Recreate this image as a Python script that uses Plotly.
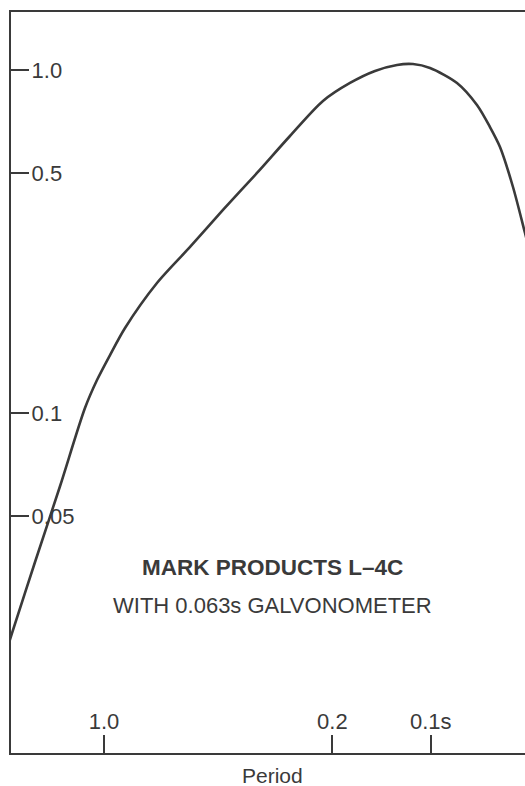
import plotly.graph_objects as go

# Response curve (period in seconds, relative magnification)
period = [1.966, 1.911, 1.625, 1.362, 1.143, 1.050, 0.958, 0.8619, 0.6882, 0.5451,
          0.4322, 0.3401, 0.2696, 0.2137, 0.1766, 0.1481, 0.1268, 0.1133, 0.1005,
          0.0831, 0.07219, 0.06586, 0.06138, 0.05601, 0.05146, 0.04797]
response = [0.02097, 0.02287, 0.03683, 0.06134, 0.1035, 0.1249, 0.1477, 0.1771, 0.2395,
            0.3051, 0.3910, 0.5012, 0.6424, 0.8124, 0.9169, 0.9938, 1.035, 1.041, 1.014,
            0.9169, 0.7909, 0.6822, 0.5968, 0.4562, 0.3351, 0.2579]

x_tickvals = [1.0, 0.2, 0.1]
x_ticktext = ["1.0", "0.2", "0.1s"]
y_tickvals = [1.0, 0.5, 0.1, 0.05]
y_ticktext = ["1.0", "0.5", "0.1", "0.05"]

title_line1 = "MARK PRODUCTS L\u20134C"
title_line2 = "WITH 0.063s GALVONOMETER"
x_title = "Period"

INK = "#3a3a3a"
FONT = "Liberation Sans, Arial, sans-serif"

fig = go.Figure()
fig.add_trace(go.Scatter(
    x=period, y=response, mode="lines",
    line=dict(color=INK, width=2.6, shape="spline", smoothing=0.8),
    showlegend=False, hoverinfo="skip",
))

fig.update_layout(
    width=525, height=786,
    margin=dict(l=11, r=0, t=12, b=33),
    paper_bgcolor="white", plot_bgcolor="white",
    font=dict(family=FONT, size=22, color=INK),
    xaxis=dict(
        type="log", range=[0.2844, -1.2885],
        showgrid=False, zeroline=False, automargin=False,
        showline=True, linecolor=INK, linewidth=2, mirror=True,
        ticks="inside", ticklen=18, tickwidth=2, tickcolor=INK,
        tickvals=x_tickvals, ticktext=x_ticktext,
        ticklabelposition="inside", ticklabelstandoff=3,
        tickfont=dict(size=22, color=INK),
    ),
    yaxis=dict(
        type="log", range=[-1.9905, 0.1692],
        showgrid=False, zeroline=False, automargin=False,
        showline=True, linecolor=INK, linewidth=2,
        ticks="inside", ticklen=18, tickwidth=2, tickcolor=INK,
        tickvals=y_tickvals, ticktext=y_ticktext,
        ticklabelposition="inside", ticklabelstandoff=4,
        tickfont=dict(size=22, color=INK),
    ),
    annotations=[
        dict(text="<b>" + title_line1 + "</b>", xref="paper", yref="paper",
             x=0.5078, y=0.2497, showarrow=False, xanchor="center", yanchor="middle",
             font=dict(size=22.5, color=INK, family=FONT)),
        dict(text=title_line2, xref="paper", yref="paper",
             x=0.5078, y=0.1997, showarrow=False, xanchor="center", yanchor="middle",
             font=dict(size=22, color=INK, family=FONT)),
        dict(text=x_title, xref="paper", yref="paper",
             x=0.5078, y=-0.0297, showarrow=False, xanchor="center", yanchor="middle",
             font=dict(size=21, color=INK, family=FONT)),
    ],
)

fig.write_html("out.html", config={"displayModeBar": False},
               post_script="document.body.style.margin='0';")
